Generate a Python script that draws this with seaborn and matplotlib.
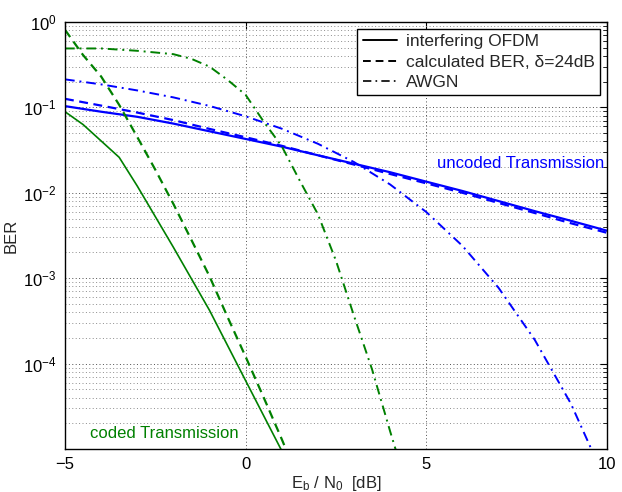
import numpy as np
import pandas as pd
import matplotlib
matplotlib.use("Agg")
import matplotlib.pyplot as plt
from matplotlib.lines import Line2D
from matplotlib.ticker import FixedLocator, NullFormatter, LogLocator
import seaborn as sns

sns.set_style("white")
plt.rcParams["font.family"] = ["Liberation Sans", "DejaVu Sans"]
plt.rcParams["mathtext.default"] = "regular"

# ---- uncoded transmission (blue) ----
snr_uncoded = [-5, -4, -3, -2, -1, 0, 1, 2, 3, 4, 5, 6, 7, 8, 9, 10]
ber_uncoded_interf = [0.1035, 0.089, 0.0776, 0.0646, 0.0525, 0.0427, 0.0347, 0.0275,
                      0.0219, 0.0174, 0.0135, 0.0105, 0.0080, 0.0061, 0.0047, 0.0036]
ber_uncoded_calc = [0.126, 0.105, 0.087, 0.071, 0.056, 0.0447, 0.0355, 0.0275,
                    0.0214, 0.0166, 0.0129, 0.0100, 0.0076, 0.0058, 0.0044, 0.0034]
ber_uncoded_awgn = [0.213, 0.186, 0.158, 0.131, 0.104, 0.0786, 0.0563, 0.0375,
                    0.0229, 0.0125, 0.00595, 0.00239, 7.7e-4, 1.9e-4, 3.4e-5, 3.9e-6]

# ---- coded transmission (green) ----
snr_coded_interf = [-5, -4.5, -3.5, -3, -2, -1, 0, 1]
ber_coded_interf = [0.089, 0.063, 0.026, 0.012, 2.3e-3, 4.2e-4, 6.3e-5, 9.5e-6]

snr_coded_calc = [-5, -4.5, -4, -3.5, -3, -2.5, -2, -1.5, -1, -0.5, 0, 0.5, 1, 1.5]
ber_coded_calc = [0.81, 0.41, 0.23, 0.107, 0.045, 0.0186, 7.4e-3, 2.8e-3, 1.05e-3,
                  3.5e-4, 1.2e-4, 4.0e-5, 1.3e-5, 4.0e-6]

snr_coded_awgn = [-5, -4, -3, -2, -1.5, -1, -0.5, 0, 0.5, 1, 1.5, 2, 2.5, 3, 3.5, 4, 4.5]
ber_coded_awgn = [0.49, 0.49, 0.46, 0.42, 0.37, 0.30, 0.21, 0.14, 0.068, 0.035, 0.0138,
                  0.0056, 1.6e-3, 3.6e-4, 8.5e-5, 1.6e-5, 3.2e-6]

legend_labels = ["interfering OFDM", "calculated BER, \u03b4=24dB", "AWGN"]
x_ticks = [-5, 0, 5, 10]
x_tick_labels = ["\u22125", "0", "5", "10"]
y_ticks = [1e-4, 1e-3, 1e-2, 1e-1, 1e0]
y_tick_labels = [r"$10^{-4}$", r"$10^{-3}$", r"$10^{-2}$", r"$10^{-1}$", r"$10^{0}$"]

BLUE = "#0000ff"
GREEN = "#008000"
DASHED = (0, (4, 2.5))
DASHDOT = (0, (5, 2.5, 1, 2.5))
FS = 12

fig = plt.figure(figsize=(6.22, 4.92), dpi=100)
ax = fig.add_axes([65 / 622, 43 / 492, 542 / 622, 427 / 492])

series = [
    (snr_uncoded, ber_uncoded_interf, BLUE, "-", 1.6),
    (snr_uncoded, ber_uncoded_calc, BLUE, DASHED, 1.6),
    (snr_uncoded, ber_uncoded_awgn, BLUE, DASHDOT, 1.4),
    (snr_coded_interf, ber_coded_interf, GREEN, "-", 1.2),
    (snr_coded_calc, ber_coded_calc, GREEN, DASHED, 1.6),
    (snr_coded_awgn, ber_coded_awgn, GREEN, DASHDOT, 1.4),
]
for xs, ys, col, ls, lw in series:
    df = pd.DataFrame({"snr": xs, "ber": ys})
    sns.lineplot(data=df, x="snr", y="ber", ax=ax, color=col, linestyle=ls,
                 linewidth=lw, sort=False, estimator=None, legend=False)

ax.set_yscale("log")
ax.set_xlim(-5, 10)
ax.set_ylim(1e-5, 1)

ax.xaxis.set_major_locator(FixedLocator(x_ticks))
ax.set_xticklabels(x_tick_labels)
ax.yaxis.set_major_locator(FixedLocator(y_ticks))
ax.set_yticklabels(y_tick_labels)
ax.yaxis.set_minor_locator(LogLocator(base=10, subs=np.arange(2, 10)))
ax.yaxis.set_minor_formatter(NullFormatter())

ax.tick_params(axis="both", which="both", direction="in", top=True, right=True,
               labelsize=FS, colors="black")
ax.tick_params(axis="both", which="major", length=5, width=0.8, pad=6)
ax.tick_params(axis="y", which="minor", length=3, width=0.6)

ax.grid(True, which="major", axis="both", linestyle=(0, (1, 2.5)), color="0.3",
        linewidth=0.7)
ax.grid(True, which="minor", axis="y", linestyle=(0, (1, 2.5)), color="0.55",
        linewidth=0.7)
ax.set_axisbelow(True)

for sp in ax.spines.values():
    sp.set_color("black")
    sp.set_linewidth(1.0)

ax.set_xlabel(r"$E_b$ / $N_0$  [dB]", fontsize=FS, labelpad=1)
ax.set_ylabel("BER", fontsize=FS, labelpad=3)

ax.text(5.3, 0.0223, "uncoded Transmission", color=BLUE, fontsize=FS,
        ha="left", va="center")
ax.text(-4.31, 1.5e-5, "coded Transmission", color=GREEN, fontsize=FS,
        ha="left", va="center")

handles = [
    Line2D([], [], color="black", linestyle="-", linewidth=1.4),
    Line2D([], [], color="black", linestyle=DASHED, linewidth=1.4),
    Line2D([], [], color="black", linestyle=DASHDOT, linewidth=1.2),
]
leg = ax.legend(handles, legend_labels, loc="upper right", fontsize=12.5,
                frameon=True, fancybox=False, framealpha=1, edgecolor="black",
                borderpad=0.3, labelspacing=0.3, handlelength=2.0,
                handletextpad=0.5, borderaxespad=0.4)
leg.get_frame().set_linewidth(1.0)

fig.savefig("out.png", dpi=100)
